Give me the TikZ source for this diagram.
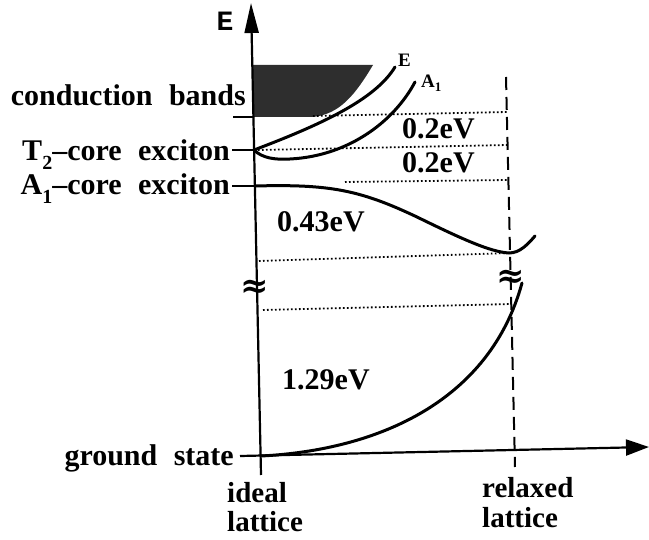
\documentclass[tikz,border=0pt]{standalone}
\usepackage{fontspec}
\setmainfont{Liberation Serif}
\newfontfamily\monofam{Liberation Mono}
\newfontfamily\symfam{DejaVu Serif}
\usetikzlibrary{arrows.meta}
\newcommand\lowidx[1]{\raisebox{-0.28em}{\fontsize{20}{20}\selectfont #1}}
\newcommand\smallidx[1]{\raisebox{-0.2em}{\fontsize{13}{13}\selectfont #1}}
\newcommand\wsp{\hspace{0.55em}}
\begin{document}
\begin{tikzpicture}[x=1pt,y=-1pt,
  lab/.style={font=\fontsize{30}{30}\selectfont\bfseries, inner sep=0pt},
  smalllab/.style={font=\fontsize{19}{19}\selectfont\bfseries, inner sep=0pt},
  curve/.style={line width=3pt, line cap=round},
  axis/.style={line width=2.2pt},
  dotline/.style={line width=1.8pt, dash pattern=on 1.6pt off 2.4pt},
  dashline/.style={line width=2pt, dash pattern=on 13pt off 7pt},
  brk/.style={font=\symfam\bfseries\fontsize{34}{34}\selectfont, inner sep=0pt},
]
\useasboundingbox (0,0) rectangle (649,540);

% conduction band (shaded)
\fill[black!82] (252,65) -- (373,65) .. controls (355,95) and (340,114) .. (313,117) -- (253,117) -- cycle;

% axes
\coordinate (ybot) at (261,475);
\coordinate (ytop) at (251,3);
\draw[axis,-{Triangle[length=30pt,width=14pt]}] (ybot) -- (ytop);
\coordinate (xl) at (240,456);
\coordinate (xr) at (649,447);
\draw[axis,-{Triangle[length=23pt,width=16pt]}] (xl) -- (xr);

% relaxed lattice dashed line
\coordinate (dtop) at (506,77);
\coordinate (dbot) at (515,467);
\draw[dashline] (dtop) -- (dbot);

% ticks
\coordinate (cbL) at (233,117); \coordinate (cbR) at (253,117);
\coordinate (t2L) at (232,150); \coordinate (t2R) at (254,150);
\coordinate (a1L) at (232,186); \coordinate (a1R) at (255,186);
\draw[axis] (cbL) -- (cbR);
\draw[axis] (t2L) -- (t2R);
\draw[axis] (a1L) -- (a1R);

% dotted energy levels
\coordinate (d1a) at (313,116); \coordinate (d1b) at (507,112);
\coordinate (d2a) at (258,150); \coordinate (d2b) at (507.6,145);
\coordinate (d3a) at (345,182); \coordinate (d3b) at (508.4,180);
\coordinate (d4a) at (259,261); \coordinate (d4b) at (510,253);
\coordinate (d5a) at (263,310); \coordinate (d5b) at (511.2,304);
\draw[dotline] (d1a) -- (d1b);
\draw[dotline] (d2a) -- (d2b);
\draw[dotline] (d3a) -- (d3b);
\draw[dotline] (d4a) -- (d4b);
\draw[dotline] (d5a) -- (d5b);

% E curve
\draw[curve] (t2R) .. controls (320,125) and (375,100) .. (395,67);
% A1 curve
\draw[curve] (t2R) .. controls (262,158) and (275,160) .. (290,159)
  .. controls (350,156) and (395,120) .. (415,82);
% A1-core exciton curve
\draw[curve] (a1R) .. controls (330,184) and (360,190) .. (417,217)
  .. controls (460,238) and (490,252) .. (509,253)
  .. controls (520,253) and (528,244) .. (535,236);
% ground state curve
\coordinate (g0) at (261,456);
\draw[curve] (g0) .. controls (380,450) and (490,400) .. (522,283);

% break marks
\node[brk] (brkL) at (255,289) {≈};
\node[brk] (brkR) at (511,279) {≈};

% labels
\node[font=\monofam\bfseries\fontsize{28}{28}\selectfont, inner sep=0pt, anchor=base] (Eax) at (225,31) {E};
\node[smalllab, anchor=base west] (Elab) at (398,67) {E};
\node[smalllab, anchor=base west] (A1lab) at (421,88) {A\smallidx{1}};

\node[lab, anchor=base east] (cb) at (246,106) {conduction\wsp bands};
\node[lab, anchor=base east] (t2) at (230,161) {T\lowidx{2}--core\wsp exciton};
\node[lab, anchor=base east] (a1) at (230,195) {A\lowidx{1}--core\wsp exciton};
\node[lab, anchor=base east] (gs) at (234,466) {ground\wsp state};

\node[lab, anchor=base west] (e1) at (402,139) {0.2eV};
\node[lab, anchor=base west] (e2) at (402,173) {0.2eV};
\node[lab, anchor=base west] (e3) at (277,232) {0.43eV};
\node[lab, anchor=base west] (e4) at (282,390) {1.29eV};

\node[lab, font=\fontsize{29}{29}\selectfont\bfseries, align=left, anchor=base west] (il) at (227,532) {ideal\\lattice};
\node[lab, font=\fontsize{29}{29}\selectfont\bfseries, align=left, anchor=base west] (rl) at (482,527) {relaxed\\lattice};
\end{tikzpicture}
\end{document}
